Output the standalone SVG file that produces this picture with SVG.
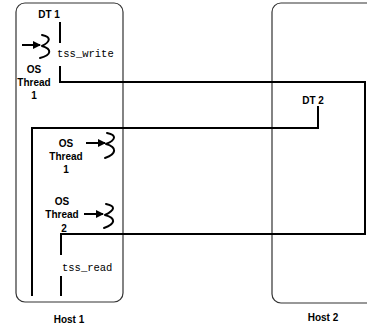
<svg xmlns="http://www.w3.org/2000/svg" width="367" height="330" viewBox="0 0 367 330">
<defs>
<style>
.host{fill:none;stroke:#333;stroke-width:1.2}
.lbl{font-family:"Liberation Sans",Arial,sans-serif;font-weight:bold;font-size:10px;fill:#000;text-anchor:middle}
.hl{font-family:"Liberation Sans",Arial,sans-serif;font-weight:bold;font-size:10px;fill:#000;text-anchor:middle}
.mono{font-family:"Liberation Mono","Courier New",monospace;font-size:10.5px;fill:#000}
.wire{fill:none;stroke:#000;stroke-width:2}
.sq{fill:none;stroke:#000;stroke-width:2;stroke-linecap:round;stroke-linejoin:round}
</style>
<marker id="ah" viewBox="0 0 8 8" refX="7" refY="4" markerWidth="8" markerHeight="8" markerUnits="userSpaceOnUse" orient="auto">
<path d="M0,0 L8,4 L0,8 Z" fill="#000"/>
</marker>
</defs>
<g id="host1">
<rect class="host" x="16" y="3" width="107" height="299" rx="9"/>
<text class="hl" x="69" y="323">Host 1</text>
</g>
<g id="host2">
<rect class="host" x="272" y="3" width="110" height="300" rx="9"/>
<text class="hl" x="323" y="321">Host 2</text>
</g>
<g id="dt1">
<text class="lbl" x="49" y="18">DT 1</text>
</g>
<g id="dt2">
<text class="lbl" x="313" y="104">DT 2</text>
</g>
<g id="tss_write">
<text class="mono" x="57" y="57">tss_write</text>
</g>
<g id="tss_read">
<text class="mono" x="62" y="271">tss_read</text>
</g>
<g id="os_thread_1a">
<text class="lbl" x="34" y="73">OS</text>
<text class="lbl" x="34" y="86">Thread</text>
<text class="lbl" x="34" y="99">1</text>
<line class="wire" x1="22" y1="45" x2="40" y2="45" marker-end="url(#ah)"/>
<path class="sq" d="M42,35 C52,37 50,42 42,46 C52,49 52,55 40,58"/>
</g>
<g id="os_thread_1b">
<text class="lbl" x="66" y="147">OS</text>
<text class="lbl" x="66" y="160">Thread</text>
<text class="lbl" x="66" y="173">1</text>
<line class="wire" x1="86" y1="143" x2="105" y2="143" marker-end="url(#ah)"/>
<path class="sq" d="M107,133 C117,135 116,140 106,144 C117,147 117,154 105,158"/>
</g>
<g id="os_thread_2">
<text class="lbl" x="62" y="205">OS</text>
<text class="lbl" x="62" y="218">Thread</text>
<text class="lbl" x="64" y="232">2</text>
<line class="wire" x1="84" y1="214" x2="103" y2="214" marker-end="url(#ah)"/>
<path class="sq" d="M106,204 C116,206 115,210 105,215 C116,218 116,224 104,228"/>
</g>
<g id="connectors">
<path class="wire" d="M60,22 V43"/>
<path class="wire" d="M60,66 V82 H365 V234 H61 V255"/>
<path class="wire" d="M61,276 V296"/>
<path class="wire" d="M32,296 V128 H318 V106"/>
</g>
</svg>
